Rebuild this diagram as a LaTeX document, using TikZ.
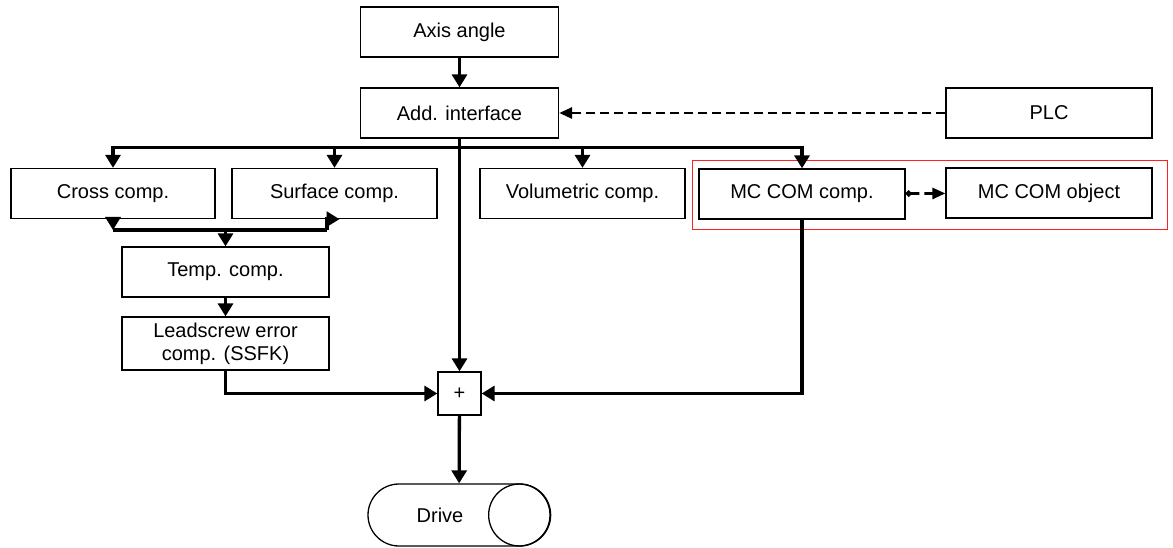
\documentclass[tikz,border=0pt]{standalone}
\usepackage{fontspec}
\setmainfont{Liberation Sans}
\usepackage{tikz}
\usetikzlibrary{arrows.meta,shapes.misc}
\definecolor{framered}{HTML}{FF2020}

\begin{document}
\begin{tikzpicture}[
  x=1pt, y=-1pt,
  box/.style={draw, line width=1.3pt, minimum width=205pt, minimum height=50pt, align=center, inner sep=2pt, font=\fontsize{20}{23}\selectfont},
  arrow/.style={-{Triangle[length=13pt,width=15pt]}, line width=3.3pt},
  dasharrow/.style={-{Triangle[length=13pt,width=11pt]}, line width=2.8pt, dash pattern=on 9pt off 5pt},
  drive/.style={draw, line width=1.3pt, rounded rectangle, minimum width=182pt, minimum height=62pt, inner sep=0pt, font=\fontsize{20}{23}\selectfont}
]
  \useasboundingbox (0,0) rectangle (1173,548);

  % Input side
  \node[box, minimum width=198pt] (axis) at (459.5,32) {Axis angle};
  \node[box, minimum width=198pt] (addif) at (459.5,113) {Add. interface};
  \node[box, minimum width=206pt] (plc) at (1049,113) {PLC};

  % Compensations
  \node[box, minimum width=204pt] (cross) at (113,193.5) {Cross comp.};
  \node[box] (surface) at (334.5,193.5) {Surface comp.};
  \node[box] (volum) at (582.5,193.5) {Volumetric comp.};
  \node[box, minimum width=206pt] (mccomp) at (802,194) {MC COM comp.};
  \node[box, minimum width=206pt] (mcobj) at (1049,193) {MC COM object};
  \node[box, minimum width=207pt] (temp) at (225.5,272) {Temp. comp.};
  \node[box, minimum width=207pt, minimum height=53pt] (lead) at (225.5,343.5) {Leadscrew error\\comp. (SSFK)};

  % Sum and drive
  \node[draw, line width=1.3pt, minimum size=43pt, inner sep=0pt, font=\fontsize{20}{23}\selectfont] (plus) at (459.5,393.5) {+};
  \node[drive] (drive) at (459,515) {Drive\kern38pt};
  \draw[line width=1.3pt] ([xshift=-31pt]drive.east) circle (31pt);

  % Highlight
  \draw[framered, line width=1.4pt] ([shift={(-6,-8)}]mccomp.north west) rectangle ([shift={(15,11)}]mcobj.south east);

  % Distribution bus
  \coordinate (bus) at (459.5,147.5);
  \draw[arrow] (axis) -- (addif);
  \draw[arrow] (addif.south) -- (plus.north);
  \draw[arrow] (bus) -| (cross.north);
  \draw[arrow] (bus) -| (surface.north);
  \draw[arrow] (bus) -| (volum.north);
  \draw[arrow] (bus) -| (mccomp.north);

  % Merge into temperature compensation
  \coordinate (mergeL) at (113,230);
  \coordinate (mergeR) at (327,230);
  \draw[arrow] (cross.south) -- (mergeL);
  \draw[arrow] (mergeR) |- ([xshift=5pt]surface.south);
  \draw[line width=4.5pt] (mergeL) -- (mergeR);
  \draw[arrow] (temp.north |- mergeL) -- (temp.north);
  \draw[arrow] (temp) -- (lead);

  % Into the sum
  \draw[arrow] (lead.south) |- (plus.west);
  \draw[arrow] (mccomp.south) |- (plus.east);
  \draw[arrow] (plus) -- (drive);

  % Dashed links
  \draw[dasharrow] (plc) -- (addif);
  \draw[dasharrow, {Circle[length=6pt]}-{Triangle[length=13pt,width=11pt]}] (mccomp) -- (mcobj);
\end{tikzpicture}
\end{document}
